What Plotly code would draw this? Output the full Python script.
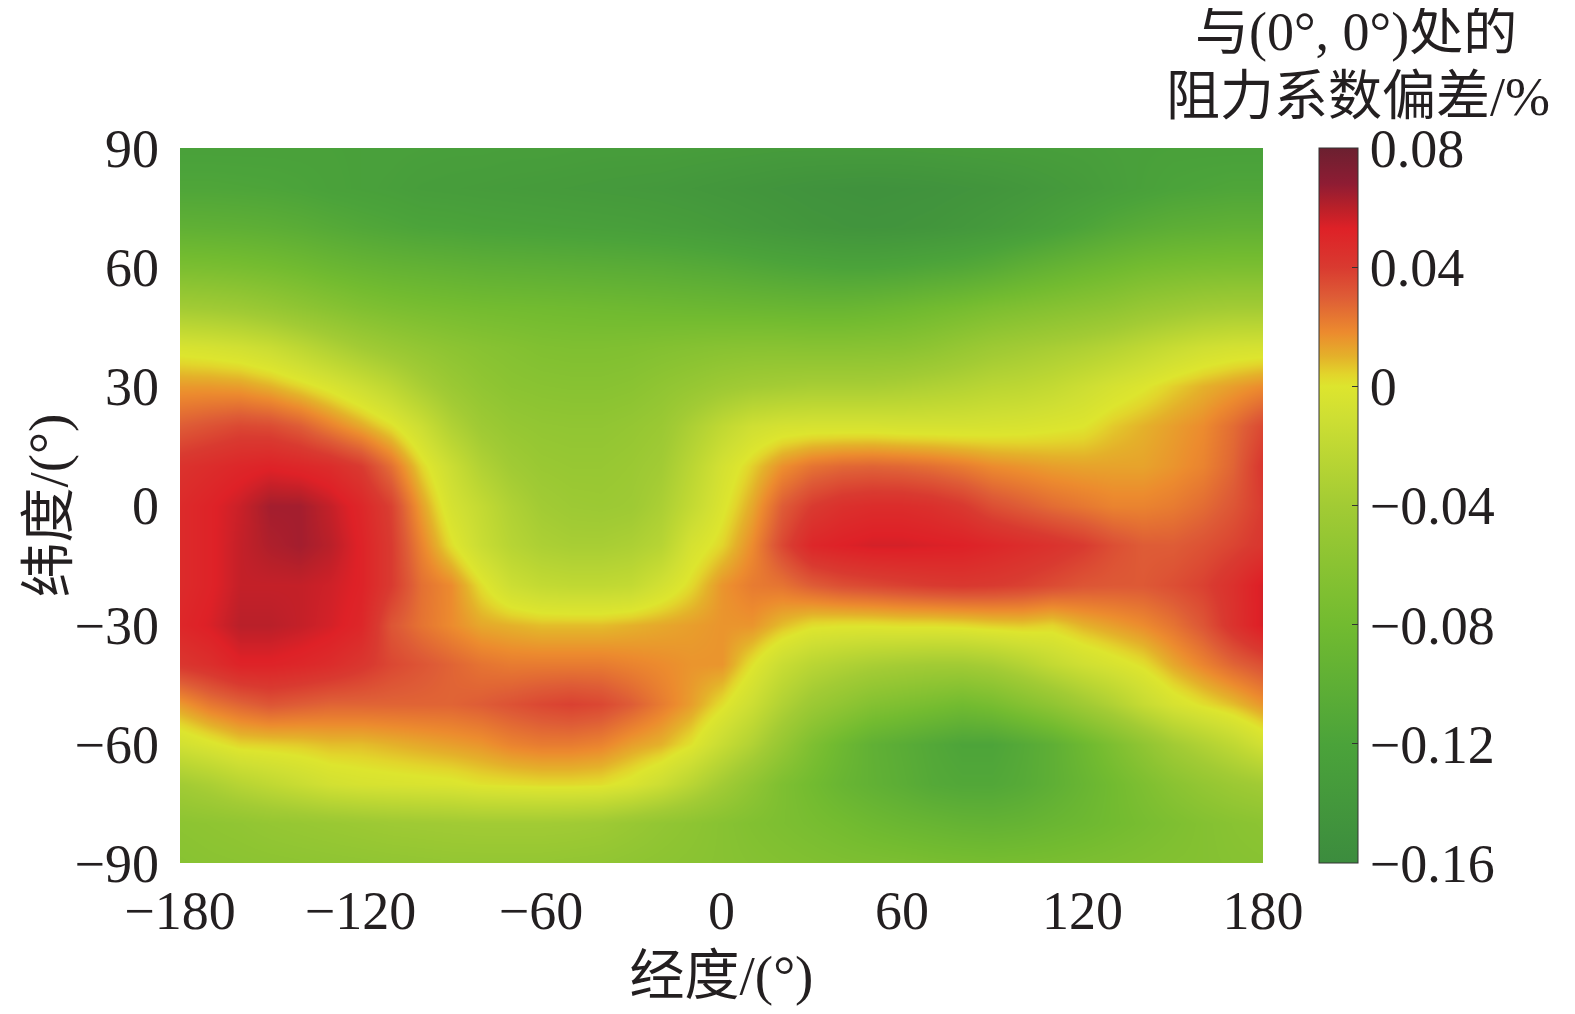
import plotly.graph_objects as go

lons = list(range(-180, 190, 10))
lats = list(range(90, -100, -10))

z_rows = [
    [-.124,-.124,-.124,-.124,-.124,-.124,-.125,-.125,-.126,-.127,-.127,-.128,-.128,-.129,-.13,-.13,-.13,-.131,-.132,-.133,-.134,-.134,-.134,-.134,-.134,-.133,-.132,-.131,-.13,-.129,-.128,-.126,-.125,-.124,-.124,-.124,-.124],
    [-.116,-.116,-.117,-.118,-.12,-.123,-.125,-.127,-.13,-.131,-.132,-.133,-.134,-.135,-.136,-.137,-.138,-.14,-.142,-.144,-.146,-.148,-.149,-.15,-.149,-.148,-.146,-.144,-.141,-.137,-.133,-.128,-.124,-.12,-.118,-.116,-.116],
    [-.098,-.099,-.1,-.102,-.105,-.109,-.113,-.116,-.119,-.12,-.122,-.123,-.124,-.125,-.126,-.127,-.129,-.131,-.134,-.137,-.14,-.143,-.145,-.146,-.145,-.143,-.14,-.136,-.131,-.125,-.118,-.111,-.106,-.102,-.1,-.098,-.098],
    [-.072,-.073,-.075,-.078,-.082,-.087,-.091,-.094,-.096,-.098,-.1,-.101,-.102,-.103,-.104,-.105,-.106,-.108,-.11,-.113,-.116,-.118,-.12,-.12,-.118,-.115,-.112,-.107,-.1,-.094,-.088,-.083,-.078,-.075,-.073,-.072,-.072],
    [-.04,-.042,-.045,-.05,-.056,-.062,-.068,-.072,-.075,-.077,-.079,-.08,-.081,-.082,-.083,-.084,-.085,-.086,-.087,-.088,-.089,-.09,-.09,-.088,-.085,-.081,-.077,-.072,-.068,-.064,-.06,-.056,-.05,-.046,-.042,-.04,-.04],
    [-.004,-.006,-.009,-.014,-.022,-.031,-.04,-.047,-.053,-.058,-.062,-.065,-.068,-.069,-.069,-.068,-.066,-.064,-.062,-.061,-.061,-.062,-.062,-.061,-.06,-.056,-.05,-.044,-.04,-.036,-.032,-.027,-.021,-.015,-.01,-.007,-.006],
    [.015,.015,.014,.01,.004,-.003,-.012,-.022,-.035,-.046,-.054,-.059,-.061,-.062,-.062,-.06,-.055,-.05,-.044,-.04,-.038,-.036,-.036,-.036,-.034,-.031,-.028,-.024,-.022,-.018,-.012,-.006,-.001,.005,.01,.014,.018],
    [.03,.033,.036,.035,.03,.021,.012,.002,-.012,-.03,-.043,-.05,-.053,-.054,-.054,-.051,-.046,-.033,-.02,-.01,-.006,-.005,-.005,-.005,-.006,-.006,-.006,-.005,-.004,-.002,.0,.006,.01,.014,.018,.026,.036],
    [.044,.047,.05,.052,.05,.047,.04,.025,.004,-.013,-.03,-.041,-.047,-.049,-.049,-.046,-.04,-.024,-.007,.005,.017,.024,.027,.028,.027,.025,.022,.018,.016,.014,.013,.013,.013,.016,.02,.028,.042],
    [.048,.052,.057,.064,.064,.058,.05,.038,.014,-.006,-.018,-.031,-.04,-.044,-.045,-.043,-.034,-.018,-.002,.012,.03,.04,.045,.047,.047,.045,.041,.034,.03,.026,.023,.02,.02,.022,.026,.032,.04],
    [.048,.052,.058,.062,.064,.06,.052,.04,.02,.002,-.014,-.026,-.033,-.036,-.036,-.033,-.026,-.006,.004,.018,.036,.05,.053,.055,.055,.054,.053,.05,.047,.044,.04,.034,.03,.03,.033,.037,.042],
    [.048,.052,.058,.058,.058,.056,.052,.04,.025,.018,.002,-.012,-.018,-.02,-.02,-.018,-.008,.003,.016,.022,.024,.03,.034,.036,.038,.04,.041,.04,.038,.035,.032,.031,.031,.034,.038,.045,.055],
    [.05,.054,.06,.06,.058,.055,.05,.032,.024,.018,.012,.01,.008,.008,.008,.01,.012,.014,.016,.016,.008,.002,.001,.001,.002,.002,.003,.005,.006,.004,.01,.014,.018,.024,.032,.044,.055],
    [.042,.046,.052,.052,.05,.047,.042,.036,.032,.028,.024,.022,.022,.022,.022,.02,.018,.016,.016,.001,-.014,-.024,-.03,-.035,-.038,-.04,-.04,-.036,-.028,-.018,-.01,-.004,.002,.012,.02,.028,.034],
    [.015,.023,.028,.032,.03,.028,.028,.028,.028,.028,.03,.033,.036,.038,.036,.03,.022,.014,.002,-.012,-.03,-.045,-.055,-.065,-.07,-.075,-.08,-.075,-.065,-.055,-.042,-.03,-.016,-.005,.002,.008,.016],
    [-.008,-.002,.004,.005,.006,.008,.008,.01,.012,.014,.016,.02,.022,.022,.02,.014,.01,.001,-.015,-.03,-.05,-.07,-.085,-.098,-.105,-.112,-.118,-.118,-.11,-.1,-.085,-.07,-.055,-.04,-.03,-.02,-.008],
    [-.04,-.034,-.026,-.02,-.014,-.008,-.005,-.004,-.003,-.002,.001,.002,.003,.003,.002,-.003,-.012,-.025,-.04,-.055,-.07,-.08,-.09,-.097,-.103,-.11,-.113,-.113,-.108,-.1,-.09,-.08,-.07,-.06,-.052,-.045,-.04],
    [-.058,-.056,-.054,-.051,-.049,-.047,-.045,-.043,-.042,-.041,-.04,-.04,-.04,-.041,-.043,-.048,-.053,-.057,-.062,-.067,-.071,-.075,-.079,-.084,-.088,-.091,-.094,-.095,-.093,-.089,-.085,-.08,-.075,-.07,-.065,-.061,-.058],
    [-.062,-.06,-.059,-.058,-.057,-.056,-.055,-.054,-.053,-.052,-.052,-.052,-.052,-.053,-.054,-.056,-.058,-.06,-.062,-.064,-.066,-.068,-.07,-.071,-.072,-.074,-.075,-.076,-.075,-.074,-.072,-.07,-.068,-.066,-.065,-.063,-.062],
]

x_ticks = [-180, -120, -60, 0, 60, 120, 180]
x_labels = ["−180", "−120", "−60", "0", "60", "120", "180"]
y_ticks = [90, 60, 30, 0, -30, -60, -90]
y_labels = ["90", "60", "30", "0", "−30", "−60", "−90"]
cb_ticks = [0.08, 0.04, 0, -0.04, -0.08, -0.12, -0.16]
cb_labels = ["0.08", "0.04", "0", "−0.04", "−0.08", "−0.12", "−0.16"]

colors = [
    [0, "#3c8c3e"], [1/6, "#4ba33a"], [1/3, "#72bb30"], [0.5, "#a2cb34"],
    [0.625, "#cfdf33"], [0.6667, "#dde52e"], [0.6833, "#e2d52b"], [0.7083, "#e4b12a"],
    [0.7417, "#ec8b2e"], [0.7917, "#de5c36"], [0.8333, "#d93a30"], [0.8875, "#de2127"],
    [0.9167, "#b92029"], [0.95, "#8e1c33"], [1, "#6b2030"],
]

font_name = "Liberation Serif, Noto Sans CJK SC"
text_color = "#231f20"

fig = go.Figure(go.Heatmap(
    x=lons, y=lats, z=z_rows, zmin=-0.16, zmax=0.08,
    zsmooth="best", colorscale=colors,
    colorbar=dict(
        x=1.052, xanchor="left", y=0, yanchor="bottom", len=1, ypad=0, xpad=0,
        thickness=39, tickvals=cb_ticks, ticktext=cb_labels,
        ticks="inside", ticklen=6, tickwidth=1, tickcolor="#333333",
        outlinecolor="#333333", outlinewidth=1,
        tickfont=dict(family=font_name, size=54, color=text_color),
    ),
))

fig.update_xaxes(
    range=[-180, 180], tickvals=x_ticks, ticktext=x_labels, showgrid=False, zeroline=False,
    ticklabelstandoff=11, tickfont=dict(family=font_name, size=54, color=text_color),
    title=dict(text="经度/(°)", font=dict(family=font_name, size=55, color=text_color), standoff=24),
)
fig.update_yaxes(
    range=[-90, 90], tickvals=y_ticks, ticktext=y_labels, showgrid=False, zeroline=False,
    ticklabelstandoff=20, tickfont=dict(family=font_name, size=54, color=text_color),
)

fig.add_annotation(
    text="纬度/(°)", xref="paper", yref="paper", x=0, y=0.5, textangle=-90,
    xanchor="center", yanchor="middle", xshift=-132, showarrow=False,
    font=dict(family=font_name, size=55, color=text_color),
)
fig.add_annotation(
    text="与(0°, 0°)处的", xref="paper", yref="paper", x=1.086, y=1.0,
    xanchor="center", yanchor="middle", yshift=116, showarrow=False,
    font=dict(family=font_name, size=54, color=text_color),
)
fig.add_annotation(
    text="阻力系数偏差/%", xref="paper", yref="paper", x=1.088, y=1.0,
    xanchor="center", yanchor="middle", yshift=51, showarrow=False,
    font=dict(family=font_name, size=54, color=text_color),
)

fig.update_layout(
    width=1559, height=998, paper_bgcolor="white", plot_bgcolor="white",
    margin=dict(l=172, r=304, t=140, b=143, autoexpand=False),
)

fig.write_html("out.html")
